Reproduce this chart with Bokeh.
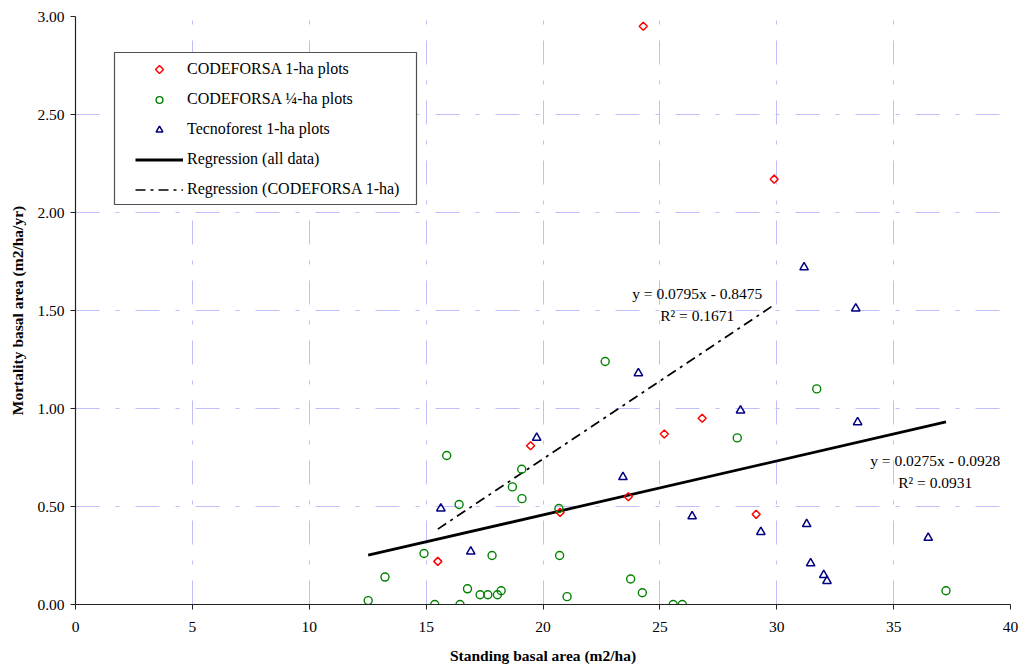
from bokeh.plotting import figure
from bokeh.models import (Legend, LegendItem, BoxAnnotation, PolyAnnotation, FixedTicker,
                          NumeralTickFormatter, Range1d, ColumnDataSource)
from bokeh.core.properties import value
from bokeh.embed import file_html
from bokeh.resources import INLINE
import math

# --- data -----------------------------------------------------------------
# CODEFORSA 1-ha plots
cod1_x = [15.50, 19.47, 20.73, 23.65, 24.29, 25.19, 26.81, 29.12, 29.89]
cod1_y = [0.22, 0.81, 0.47, 0.55, 2.95, 0.87, 0.95, 0.46, 2.17]

# CODEFORSA 1/4-ha plots
cod4_x = [12.52, 13.24, 14.91, 15.37, 15.88, 16.41, 16.45, 16.77, 17.31,
          17.64, 17.82, 18.05, 18.21, 18.69, 19.09, 19.10, 20.68, 20.71,
          21.03, 22.66, 23.75, 24.25, 25.57, 25.96, 28.31, 31.71, 37.24]
cod4_y = [0.02, 0.14, 0.26, 0.00, 0.76, 0.51, 0.00, 0.08, 0.05,
          0.05, 0.25, 0.05, 0.07, 0.60, 0.69, 0.54, 0.49, 0.25,
          0.04, 1.24, 0.13, 0.06, 0.00, 0.00, 0.85, 1.10, 0.07]

# Tecnoforest 1-ha plots
tec_x = [15.63, 16.91, 19.73, 23.42, 24.08, 26.38, 28.45, 29.32, 31.17,
         31.28, 31.45, 32.01, 32.15, 33.38, 33.46, 36.48]
tec_y = [0.49, 0.27, 0.85, 0.65, 1.18, 0.45, 0.99, 0.37, 1.72,
         0.41, 0.21, 0.15, 0.12, 1.51, 0.93, 0.34]

# Fitted regressions
all_slope, all_intercept, all_r2 = 0.0275, -0.0928, 0.0931
cod1_slope, cod1_intercept, cod1_r2 = 0.0795, -0.8475, 0.1671

x_ticks = [0, 5, 10, 15, 20, 25, 30, 35, 40]
y_ticks = [0.0, 0.5, 1.0, 1.5, 2.0, 2.5, 3.0]

SERIF = "Liberation Serif"
RED, GREEN, NAVY = "#ff0000", "#008000", "#000080"

# --- figure ---------------------------------------------------------------
p = figure(width=1021, height=669, x_range=Range1d(0, 40), y_range=Range1d(0, 3),
           output_backend="svg", toolbar_location=None,
           min_border_left=75, min_border_right=11,
           min_border_top=16, min_border_bottom=65)
p.outline_line_color = None
p.background_fill_color = "white"

for grid in (p.xgrid, p.ygrid):
    grid.grid_line_color = "#bfbffb"
    grid.grid_line_width = 1
    grid.grid_line_dash = "24 16 4 16"
p.xgrid.ticker = FixedTicker(ticks=x_ticks)
p.ygrid.ticker = FixedTicker(ticks=y_ticks)

p.xaxis.ticker = FixedTicker(ticks=x_ticks)
p.yaxis.ticker = FixedTicker(ticks=y_ticks)
p.yaxis.formatter = NumeralTickFormatter(format="0.00")

for ax in (p.xaxis, p.yaxis):
    ax.axis_line_color = "#222222"
    ax.axis_line_width = 1.2
    ax.major_tick_line_color = "#222222"
    ax.major_tick_in = 0
    ax.major_tick_out = 5
    ax.minor_tick_line_color = None
    ax.major_label_text_font = SERIF
    ax.major_label_text_font_size = "15.5px"
    ax.major_label_text_color = "black"
    ax.axis_label_text_font = SERIF
    ax.axis_label_text_font_size = "15.5px"
    ax.axis_label_text_font_style = "bold"
    ax.axis_label_text_color = "black"

p.xaxis.axis_label = "Standing basal area (m2/ha)"
p.yaxis.axis_label = "Mortality basal area (m2/ha/yr)"
p.xaxis.major_label_standoff = 12
p.xaxis.axis_label_standoff = 12
p.yaxis.major_label_standoff = 6
p.yaxis.axis_label_standoff = 8

# --- regression lines -----------------------------------------------------
all_x = cod1_x + cod4_x + tec_x
fit_all_x = [min(all_x), max(all_x)]
fit_all_y = [all_slope * v + all_intercept for v in fit_all_x]
fit_cod1_x = [min(cod1_x), max(cod1_x)]
fit_cod1_y = [cod1_slope * v + cod1_intercept for v in fit_cod1_x]

r_all = p.line(fit_all_x, fit_all_y, line_color="black", line_width=2.8)
r_cod1_fit = p.line(fit_cod1_x, fit_cod1_y, line_color="black", line_width=1.7,
                    line_dash="10 5 3 5")

# --- scatter series -------------------------------------------------------
# diamonds are squares turned by 45 degrees so that they are as wide as tall
r_cod1 = p.scatter(cod1_x, cod1_y, marker="square", angle=math.pi / 4, size=5.7,
                   fill_color=None, line_color=RED, line_width=1.5)
r_cod4 = p.scatter(cod4_x, cod4_y, marker="circle", size=8,
                   fill_color=None, line_color=GREEN, line_width=1.4)
r_tec = p.scatter(tec_x, tec_y, marker="triangle", size=8.5,
                  fill_color=None, line_color=NAVY, line_width=1.5)

# --- equation labels ------------------------------------------------------
eq_src = ColumnDataSource(dict(
    x=[26.6, 26.6, 36.78, 36.78],
    y=[1.588, 1.474, 0.735, 0.622],
    text=[f"y = {cod1_slope:.4f}x - {abs(cod1_intercept):.4f}",
          f"R\u00b2 = {cod1_r2:.4f}",
          f"y = {all_slope:.4f}x - {abs(all_intercept):.4f}",
          f"R\u00b2 = {all_r2:.4f}"],
))
p.text(x="x", y="y", text="text", source=eq_src, text_font=value(SERIF),
       text_font_size="15.5px", text_color="black",
       text_align="center", text_baseline="middle")

# --- legend ---------------------------------------------------------------
LEG_LEFT, LEG_TOP, LEG_RIGHT, LEG_BOTTOM = 114, 52, 416, 204
LEG_PAD, LEG_ROW, LEG_GAP, LEG_GLYPH_W = 8, 20, 10, 48
FRAME_LEFT, FRAME_BOTTOM = 75, 604
first_row_y = LEG_TOP + 17
glyph_x0 = LEG_LEFT + 21

legend_box = BoxAnnotation(left=LEG_LEFT, right=LEG_RIGHT, top=LEG_TOP, bottom=LEG_BOTTOM,
                           left_units="canvas", right_units="canvas",
                           top_units="canvas", bottom_units="canvas",
                           fill_color="white", fill_alpha=1.0,
                           line_color="#505050", line_alpha=1.0, line_width=1.2)
p.add_layout(legend_box)

# diamond swatch for the first legend entry (legend swatches ignore marker angle)
cx, cy, hr = glyph_x0 + LEG_GLYPH_W / 2, first_row_y, 4.0
p.add_layout(PolyAnnotation(xs=[cx, cx + hr, cx, cx - hr], ys=[cy - hr, cy, cy + hr, cy],
                            xs_units="canvas", ys_units="canvas",
                            fill_color=None, fill_alpha=0,
                            line_color=RED, line_alpha=1.0, line_width=1.5))

swatch_proxy = p.scatter(x=[], y=[], marker="circle", size=1,
                         fill_alpha=0, line_alpha=0)

legend_height = 2 * LEG_PAD + 5 * LEG_ROW + 4 * LEG_GAP
legend_top = first_row_y - LEG_PAD - LEG_ROW / 2
legend = Legend(items=[
    LegendItem(label="CODEFORSA 1-ha plots", renderers=[swatch_proxy]),
    LegendItem(label="CODEFORSA \u00bc-ha plots", renderers=[r_cod4]),
    LegendItem(label="Tecnoforest 1-ha plots", renderers=[r_tec]),
    LegendItem(label="Regression (all data)", renderers=[r_all]),
    LegendItem(label="Regression (CODEFORSA 1-ha)", renderers=[r_cod1_fit]),
], location=(glyph_x0 - LEG_PAD - FRAME_LEFT,
             FRAME_BOTTOM - (legend_top + legend_height)))
legend.border_line_alpha = 0
legend.background_fill_alpha = 0
legend.padding = LEG_PAD
legend.spacing = LEG_GAP
legend.label_height = LEG_ROW
legend.glyph_height = 17
legend.glyph_width = LEG_GLYPH_W
legend.label_standoff = 4
legend.label_text_font = SERIF
legend.label_text_font_size = "16px"
legend.label_text_color = "black"
p.add_layout(legend, "center")

open("out.html", "w").write(file_html(p, INLINE))
